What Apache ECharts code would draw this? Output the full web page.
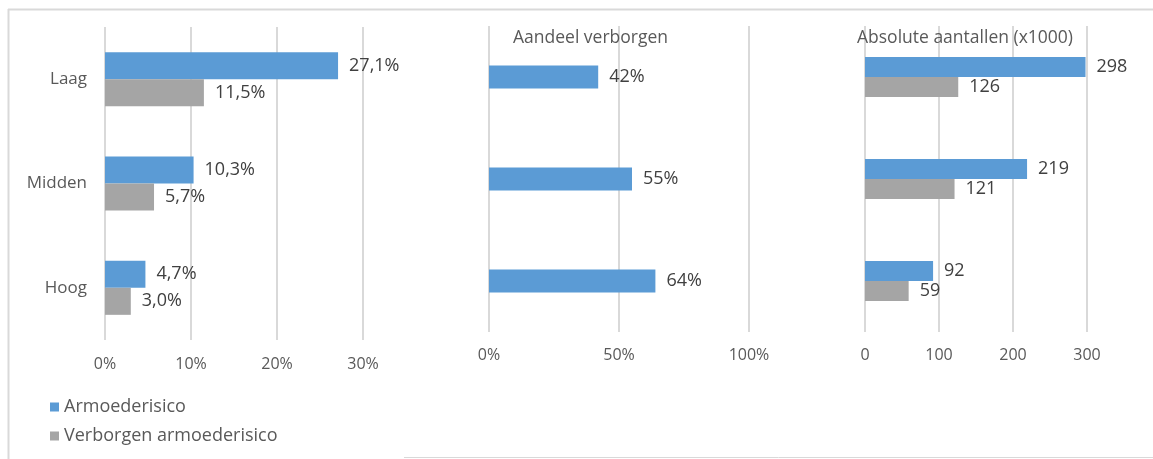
<!DOCTYPE html>
<html><head><meta charset="utf-8">
<script src="https://cdn.jsdelivr.net/npm/echarts@6/dist/echarts.min.js"></script>
<style>html,body{margin:0;padding:0;background:#fff}#c{width:1153px;height:459px}</style>
</head><body><div id="c"></div>
<script>
const categories = ['Laag', 'Midden', 'Hoog'];
const seriesNames = ['Armoederisico', 'Verborgen armoederisico'];
const armoedePct = [27.1, 10.3, 4.7];
const verborgenPct = [11.5, 5.7, 3.0];
const aandeelVerborgen = [42, 55, 64];
const armoedeAbs = [298, 219, 92];
const verborgenAbs = [126, 121, 59];
const panelTitles = ['Aandeel verborgen', 'Absolute aantallen (x1000)'];

const FONT = '"Open Sans", "Noto Sans", sans-serif';
const BLUE = '#5B9BD5', GRAY = '#A5A5A5', GRID = '#D9D9D9', TXT = '#595959', LBL = '#404040';

const chart = echarts.init(document.getElementById('c'));
const pctFmt = p => p.value.toFixed(1).replace('.', ',') + '%';
const lbl = (fmt) => ({show: true, position: 'right', distance: 11, color: LBL, fontSize: 18, fontFamily: FONT, formatter: fmt});

function xAx(gi, max, interval, fmt, margin) {
  return {type: 'value', gridIndex: gi, min: 0, max: max, interval: interval,
    axisLine: {show: false}, axisTick: {show: false},
    splitLine: {show: true, lineStyle: {color: GRID, width: 2}},
    axisLabel: {color: TXT, fontSize: 16, fontFamily: FONT, margin: margin, formatter: fmt}};
}
function yAx(gi, showLabels) {
  return {type: 'category', gridIndex: gi, data: categories, inverse: true,
    axisLine: {show: false}, axisTick: {show: false}, splitLine: {show: false},
    axisLabel: {show: showLabels, color: TXT, fontSize: 17, fontFamily: FONT, margin: 18}};
}

chart.setOption({
  animation: false,
  textStyle: {fontFamily: FONT},
  title: [
    {text: panelTitles[0], left: 508, top: 24, textStyle: {fontSize: 17.5, fontWeight: 'normal', color: TXT, fontFamily: FONT}},
    {text: panelTitles[1], left: 852, top: 24, textStyle: {fontSize: 17.5, fontWeight: 'normal', color: TXT, fontFamily: FONT}}
  ],
  legend: {orient: 'vertical', left: 45, top: 393, itemWidth: 9, itemHeight: 9, itemGap: 11, icon: 'rect',
    data: seriesNames, textStyle: {color: TXT, fontSize: 18, fontFamily: FONT}},
  grid: [
    {left: 105, top: 27, width: 258, height: 313},
    {left: 489, top: 26, width: 260, height: 306},
    {left: 865, top: 26, width: 222, height: 306}
  ],
  xAxis: [
    xAx(0, 30, 10, v => v + '%', 16),
    xAx(1, 100, 50, v => v + '%', 15),
    xAx(2, 300, 100, v => String(v), 15)
  ],
  yAxis: [yAx(0, true), yAx(1, false), yAx(2, false)],
  graphic: [
    {type: 'line', shape: {x1: 8, y1: 9.5, x2: 1153, y2: 9.5}, style: {stroke: GRID, lineWidth: 2}},
    {type: 'line', shape: {x1: 8.5, y1: 9, x2: 8.5, y2: 459}, style: {stroke: GRID, lineWidth: 2}},
    {type: 'line', shape: {x1: 404, y1: 457.5, x2: 1153, y2: 457.5}, style: {stroke: GRID, lineWidth: 1}}
  ],
  series: [
    {name: seriesNames[0], type: 'bar', xAxisIndex: 0, yAxisIndex: 0, data: armoedePct, itemStyle: {color: BLUE},
      barWidth: 27, barGap: '0%', label: lbl(pctFmt)},
    {name: seriesNames[1], type: 'bar', xAxisIndex: 0, yAxisIndex: 0, data: verborgenPct, itemStyle: {color: GRAY},
      barWidth: 27, barGap: '0%', label: lbl(pctFmt)},
    {name: seriesNames[0], type: 'bar', xAxisIndex: 1, yAxisIndex: 1, data: aandeelVerborgen, itemStyle: {color: BLUE},
      barWidth: 23, label: lbl(p => p.value + '%')},
    {name: seriesNames[0], type: 'bar', xAxisIndex: 2, yAxisIndex: 2, data: armoedeAbs, itemStyle: {color: BLUE},
      barWidth: 20, barGap: '0%', label: lbl(p => String(p.value))},
    {name: seriesNames[1], type: 'bar', xAxisIndex: 2, yAxisIndex: 2, data: verborgenAbs, itemStyle: {color: GRAY},
      barWidth: 20, barGap: '0%', label: lbl(p => String(p.value))}
  ]
});
</script></body></html>
